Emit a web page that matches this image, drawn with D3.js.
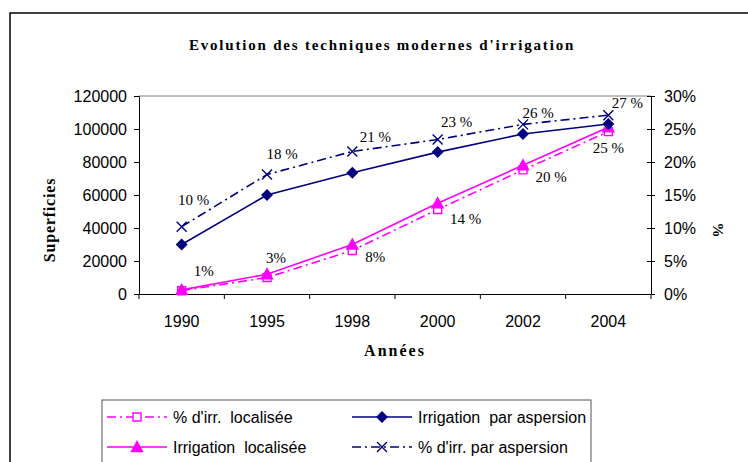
<!DOCTYPE html>
<html><head><meta charset="utf-8">
<script src="https://cdn.jsdelivr.net/npm/d3@7"></script>
<style>body{margin:0;background:#fff}svg{display:block}text{white-space:pre}</style>
</head><body>
<svg id="c" width="748" height="462"></svg>
<script>
const years = ["1990","1995","1998","2000","2002","2004"];
const irrAspersion = [30000, 60000, 73500, 86000, 97000, 103000];
const irrLocalisee = [2500, 12000, 30000, 55000, 78000, 101000];
const pctAspersion = [0.102, 0.181, 0.216, 0.234, 0.257, 0.271];
const pctLocalisee = [0.005, 0.025, 0.066, 0.128, 0.188, 0.246];
const pctAspersionLabels = ["10 %","18 %","21 %","23 %","26 %","27 %"];
const pctLocaliseeLabels = ["1%","3%","8%","14 %","20 %","25 %"];
const leftTicks = [0,20000,40000,60000,80000,100000,120000];
const rightTicks = [0,0.05,0.10,0.15,0.20,0.25,0.30];
// label offsets (layout)
const aspLabelOff = [[12,-27],[15,-21],[23,-15],[19,-18],[15,-12],[19,-12]];
const locLabelOff = [[22,-20],[9,-20],[23,6],[28,9],[28,7],[0,16]];

const svg = d3.select("#c");
const NAVY = "#000080", MAG = "#FF00FF";
const L = 139, R = 651, T = 96, B = 294;

svg.append("rect").attr("x",10).attr("y",13).attr("width",760).attr("height",480)
  .attr("fill","none").attr("stroke","#000").attr("stroke-width",1.5);

svg.append("text").attr("x",382).attr("y",50).attr("text-anchor","middle")
  .attr("font-family","Liberation Serif").attr("font-weight","bold").attr("font-size",15)
  .attr("letter-spacing",1.8).text("Evolution des techniques modernes d'irrigation");

const x = d3.scaleBand().domain(years).range([L,R]).padding(0);
const yL = d3.scaleLinear().domain([0,120000]).range([B,T]);
const yR = d3.scaleLinear().domain([0,0.30]).range([B,T]);
const cx = d => x(d) + x.bandwidth()/2;

// plot top border
svg.append("line").attr("x1",L).attr("x2",R).attr("y1",T).attr("y2",T).attr("stroke","#808080").attr("stroke-width",1);

const axisStyle = g => {
  g.selectAll("path.domain").attr("stroke","#000").attr("stroke-width",1);
  g.selectAll(".tick line").attr("stroke","#000");
  g.selectAll("text").attr("font-family","Liberation Sans").attr("font-size",16).attr("fill","#000");
};

svg.append("g").attr("transform",`translate(${L},0)`)
  .call(d3.axisLeft(yL).tickValues(leftTicks).tickFormat(d3.format("d")).tickSizeOuter(0).tickSize(5).tickPadding(7))
  .call(axisStyle);

const gR = svg.append("g").attr("transform",`translate(${R},0)`)
  .call(d3.axisRight(yR).tickValues(rightTicks).tickFormat(d3.format(".0%")).tickSizeOuter(0).tickSize(4).tickPadding(9))
  .call(axisStyle);
gR.selectAll(".tick line").attr("x1",-4);

// x axis
const gX = svg.append("g").attr("transform",`translate(0,${B})`)
  .call(d3.axisBottom(x).tickSize(0).tickPadding(20).tickSizeOuter(0))
  .call(axisStyle);
gX.selectAll(".tick text").attr("dy","0.35em").attr("y",27);
const bounds = years.map(d=>x(d)).concat([R]);
svg.append("g").selectAll("line").data(bounds).join("line")
  .attr("x1",d=>d).attr("x2",d=>d).attr("y1",B).attr("y2",B+5).attr("stroke","#000");

// axis titles
svg.append("text").attr("transform","translate(55,220) rotate(-90)").attr("text-anchor","middle")
  .attr("font-family","Liberation Serif").attr("font-weight","bold").attr("font-size",16)
  .attr("letter-spacing",0.8).text("Superficies");
svg.append("text").attr("x",395).attr("y",356).attr("text-anchor","middle")
  .attr("font-family","Liberation Serif").attr("font-weight","bold").attr("font-size",16)
  .attr("letter-spacing",2).text("Années");
svg.append("text").attr("transform","translate(713,230) rotate(90)").attr("text-anchor","middle")
  .attr("font-family","Liberation Serif").attr("font-weight","bold").attr("font-size",15).text("%");

// symbols
const sym = {
  diamond: "M0,-5L5,0L0,5L-5,0Z",
  triangle: "M0,-5.5L5.5,4.5L-5.5,4.5Z",
  square: "M-4,-4L4,-4L4,4L-4,4Z",
  cross: "M-5,-5L5,5M-5,5L5,-5"
};
const DASH = "9,4,2,4";

function drawSeries(vals, yScale, color, dash, shape, fill) {
  const line = d3.line().x((d,i)=>cx(years[i])).y(d=>yScale(d));
  svg.append("path").datum(vals).attr("d",line).attr("fill","none")
    .attr("stroke",color).attr("stroke-width",1.6).attr("stroke-dasharray",dash);
  svg.append("g").selectAll("path").data(vals).join("path")
    .attr("transform",(d,i)=>`translate(${cx(years[i])},${yScale(d)})`)
    .attr("d",sym[shape]).attr("fill",fill).attr("stroke",color).attr("stroke-width",1.4);
}

drawSeries(pctLocalisee, yR, MAG, DASH, "square", "#fff");
drawSeries(irrLocalisee, yL, MAG, null, "triangle", MAG);
drawSeries(pctAspersion, yR, NAVY, DASH, "cross", "none");
drawSeries(irrAspersion, yL, NAVY, null, "diamond", NAVY);

function labels(vals, texts, offs){
  svg.append("g").selectAll("text").data(vals).join("text")
    .attr("x",(d,i)=>cx(years[i])+offs[i][0]).attr("y",(d,i)=>yR(d)+offs[i][1])
    .attr("dy","0.35em").attr("text-anchor","middle")
    .attr("font-family","Liberation Serif").attr("font-size",15).attr("fill","#000")
    .text((d,i)=>texts[i]);
}
labels(pctAspersion, pctAspersionLabels, aspLabelOff);
labels(pctLocalisee, pctLocaliseeLabels, locLabelOff);

// legend
svg.append("rect").attr("x",102).attr("y",400).attr("width",489).attr("height",80)
  .attr("fill","#fff").attr("stroke","#555").attr("stroke-width",1);
const legend = [
  {t:"% d'irr.  localisée", c:MAG, dash:DASH, s:"square", f:"#fff", col:0, row:0},
  {t:"Irrigation  par aspersion", c:NAVY, dash:null, s:"diamond", f:NAVY, col:1, row:0},
  {t:"Irrigation  localisée", c:MAG, dash:null, s:"triangle", f:MAG, col:0, row:1},
  {t:"% d'irr. par aspersion", c:NAVY, dash:DASH, s:"cross", f:"none", col:1, row:1}
];
const lg = svg.append("g").selectAll("g").data(legend).join("g")
  .attr("transform",d=>`translate(${d.col?352:107},${d.row?447:417})`);
lg.append("line").attr("x1",0).attr("x2",60).attr("stroke",d=>d.c).attr("stroke-width",1.6)
  .attr("stroke-dasharray",d=>d.dash);
lg.append("path").attr("transform","translate(30,0)").attr("d",d=>sym[d.s]).attr("fill",d=>d.f)
  .attr("stroke",d=>d.c).attr("stroke-width",1.4);
lg.append("text").attr("x",66).attr("dy","0.35em").attr("font-family","Liberation Sans")
  .attr("font-size",16).text(d=>d.t);
</script>
</body></html>
